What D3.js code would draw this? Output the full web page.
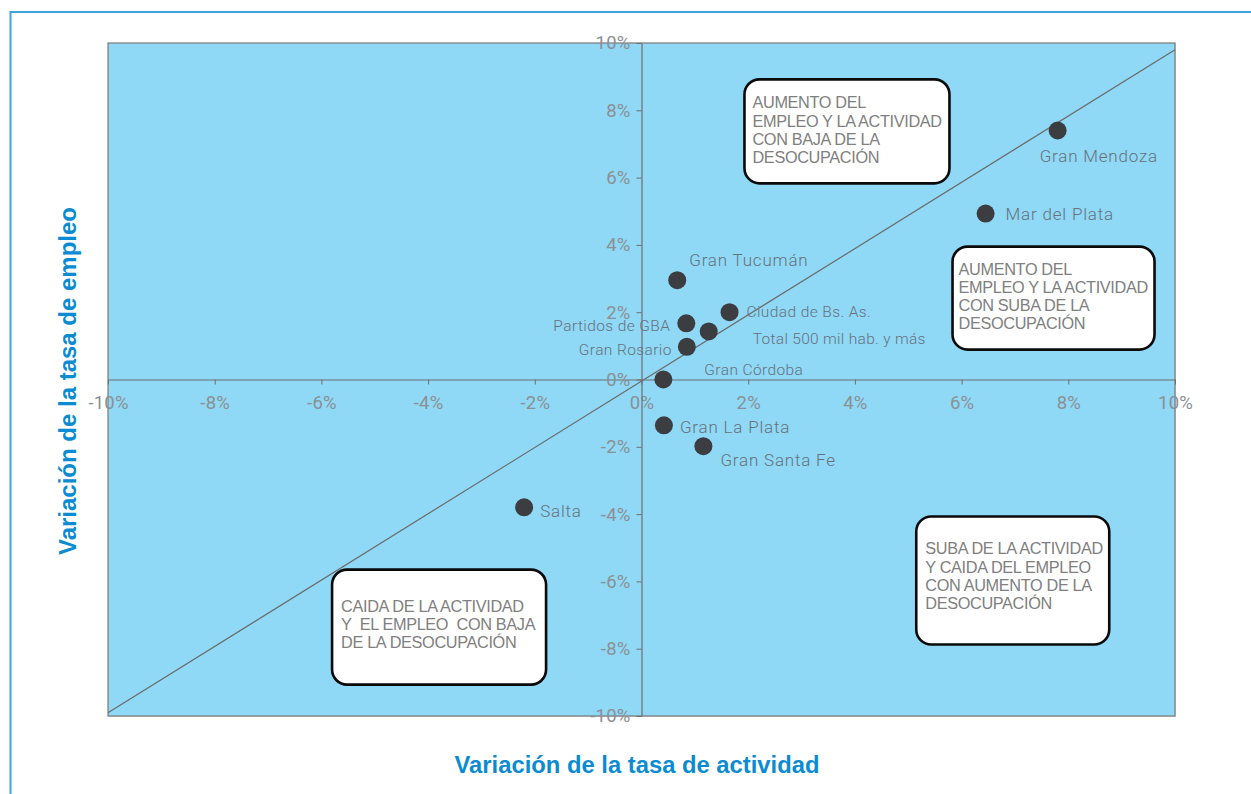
<!DOCTYPE html>
<html><head><meta charset="utf-8">
<script src="https://cdn.jsdelivr.net/npm/d3@7"></script>
<style>
html,body{margin:0;padding:0;background:#fff;}
svg{display:block;}
</style></head>
<body>
<svg id="chart" width="1251" height="794"></svg>
<script>
// ---------- data ----------
const cities = ["Gran Mendoza","Mar del Plata","Gran Tucumán","Ciudad de Bs. As.","Partidos de GBA","Total 500 mil hab. y más","Gran Rosario","Gran Córdoba","Gran La Plata","Gran Santa Fe","Salta"];
const actividad = [7.8, 6.45, 0.67, 1.65, 0.84, 1.26, 0.85, 0.41, 0.42, 1.16, -2.2];
const empleo    = [7.4, 4.93, 2.95, 2.0, 1.67, 1.43, 0.97, 0.0, -1.36, -1.98, -3.8];
const xTicks = [-10,-8,-6,-4,-2,0,2,4,6,8,10];
const yTicks = [-10,-8,-6,-4,-2,0,2,4,6,8,10];
const refLineX = [-10, 10];
const refLineY = [-9.9, 9.8];
const quadrantTexts = [
  ["AUMENTO DEL","EMPLEO Y LA ACTIVIDAD","CON BAJA DE LA","DESOCUPACIÓN"],
  ["AUMENTO DEL","EMPLEO Y LA ACTIVIDAD","CON SUBA DE LA","DESOCUPACIÓN"],
  ["SUBA DE LA ACTIVIDAD","Y CAIDA DEL EMPLEO","CON AUMENTO DE LA","DESOCUPACIÓN"],
  ["CAIDA DE LA ACTIVIDAD","Y  EL EMPLEO  CON BAJA","DE LA DESOCUPACIÓN"]
];
const xTitle = "Variación de la tasa de actividad";
const yTitle = "Variación de la tasa de empleo";

// ---------- layout ----------
const svg = d3.select("#chart");
const L = 108, R = 1175, T = 43, B = 716;
const x = d3.scaleLinear().domain([-10,10]).range([L,R]);
const y = d3.scaleLinear().domain([-10,10]).range([B,T]);
const fmt = d => d + "%";

// outer frame
svg.append("rect").attr("x",10.5).attr("y",12).attr("width",1300).attr("height",900)
  .attr("fill","none").attr("stroke","#3fa3dd").attr("stroke-width",2);

// plot background
svg.append("rect").attr("x",L+1).attr("y",T+1).attr("width",R-L).attr("height",B-T)
  .attr("fill","#d8d8d8");
svg.append("rect").attr("x",L).attr("y",T).attr("width",R-L).attr("height",B-T)
  .attr("fill","#8fd8f6").attr("stroke","#7a7a7a").attr("stroke-width",1.2);

// reference line
svg.append("line")
  .attr("x1",x(refLineX[0])).attr("y1",y(refLineY[0]))
  .attr("x2",x(refLineX[1])).attr("y2",y(refLineY[1]))
  .attr("stroke","#6a6a6a").attr("stroke-width",1.2);

// axes
const tickColor = "#8a9094";
const xAxis = svg.append("g").attr("transform",`translate(0,${y(0)})`)
  .call(d3.axisBottom(x).tickValues(xTicks).tickFormat(fmt).tickSize(5).tickSizeOuter(0).tickPadding(11));
const yAxis = svg.append("g").attr("transform",`translate(${x(0)},0)`)
  .call(d3.axisLeft(y).tickValues(yTicks).tickFormat(fmt).tickSize(5).tickSizeOuter(0).tickPadding(6));
[xAxis,yAxis].forEach(g=>{
  g.select(".domain").attr("stroke","#6e6e6e").attr("stroke-width",1.2);
  g.selectAll(".tick line").attr("stroke","#6e6e6e");
  g.selectAll(".tick text").attr("fill",tickColor)
    .style("font-family","Roboto, 'Noto Sans', sans-serif").style("font-size","18.5px").style("font-weight","400")
    .style("letter-spacing","0.2px");
});

// quadrant boxes (positions in data units)
const boxes = [
  {x:1.93, y:8.92, w:205, h:104, lh:18.3, pad:[8,29]},
  {x:5.83, y:3.95, w:202, h:103, lh:18.3, pad:[6,28]},
  {x:5.15, y:-4.07, w:193, h:128, lh:18.3, pad:[9,38]},
  {x:-5.8, y:-5.65, w:214, h:115, lh:18.3, pad:[9,42]}
];
boxes.forEach((b,i)=>{
  const g = svg.append("g").attr("transform",`translate(${x(b.x)},${y(b.y)})`);
  g.append("rect").attr("width",b.w).attr("height",b.h).attr("rx",15).attr("ry",15)
    .attr("fill","#fff").attr("stroke","#0a0a0a").attr("stroke-width",2.6);
  g.append("text").attr("fill","#808080")
    .style("font-family","'Liberation Sans', Arial, sans-serif").style("font-size","16.3px").style("letter-spacing","-0.35px")
    .selectAll("tspan").data(quadrantTexts[i]).join("tspan")
    .attr("x",b.pad[0]).attr("y",(d,j)=>b.pad[1]+j*b.lh).attr("xml:space","preserve").text(d=>d);
});

// points
const pts = cities.map((c,i)=>({c, ax:actividad[i], em:empleo[i]}));
svg.append("g").selectAll("circle").data(pts).join("circle")
  .attr("cx",d=>x(d.ax)).attr("cy",d=>y(d.em)).attr("r",9).attr("fill","#3c3d41");

// labels: offsets in px relative to point
const labelOffsets = {
  "Gran Mendoza":[-18,32,"start",17,0.8],
  "Mar del Plata":[20,6,"start",17,0.8],
  "Gran Tucumán":[12,-14,"start",17,0.8],
  "Ciudad de Bs. As.":[17,5,"start",15.5,0.4],
  "Partidos de GBA":[-16,8,"end",15.5,0.4],
  "Total 500 mil hab. y más":[44,13,"start",15.5,0.3],
  "Gran Rosario":[-15,8,"end",15.5,0.4],
  "Gran Córdoba":[41,-5,"start",15.5,0.4],
  "Gran La Plata":[16,8,"start",17,0.8],
  "Gran Santa Fe":[17,20,"start",17,0.8],
  "Salta":[16,10,"start",17,0.8]
};
svg.append("g").selectAll("text").data(pts).join("text")
  .attr("x",d=>x(d.ax)+labelOffsets[d.c][0]).attr("y",d=>y(d.em)+labelOffsets[d.c][1])
  .attr("text-anchor",d=>labelOffsets[d.c][2])
  .style("font-size",d=>labelOffsets[d.c][3]+"px")
  .style("letter-spacing",d=>labelOffsets[d.c][4]+"px")
  .style("font-family","Roboto, 'Noto Sans', sans-serif").style("font-weight","300")
  .attr("fill","#66727c").text(d=>d.c);

// titles
svg.append("text").attr("x",637).attr("y",773).attr("text-anchor","middle")
  .attr("textLength",365).attr("lengthAdjust","spacingAndGlyphs")
  .style("font-family","'Liberation Sans Narrow','Liberation Sans',Arial,sans-serif")
  .style("font-size","23px").style("font-weight","bold").attr("fill","#0b8bd1").text(xTitle);
svg.append("text").attr("transform","translate(76,381) rotate(-90)").attr("text-anchor","middle")
  .attr("textLength",348).attr("lengthAdjust","spacingAndGlyphs")
  .style("font-family","'Liberation Sans Narrow','Liberation Sans',Arial,sans-serif")
  .style("font-size","23px").style("font-weight","bold").attr("fill","#0b8bd1").text(yTitle);
</script>
</body></html>
